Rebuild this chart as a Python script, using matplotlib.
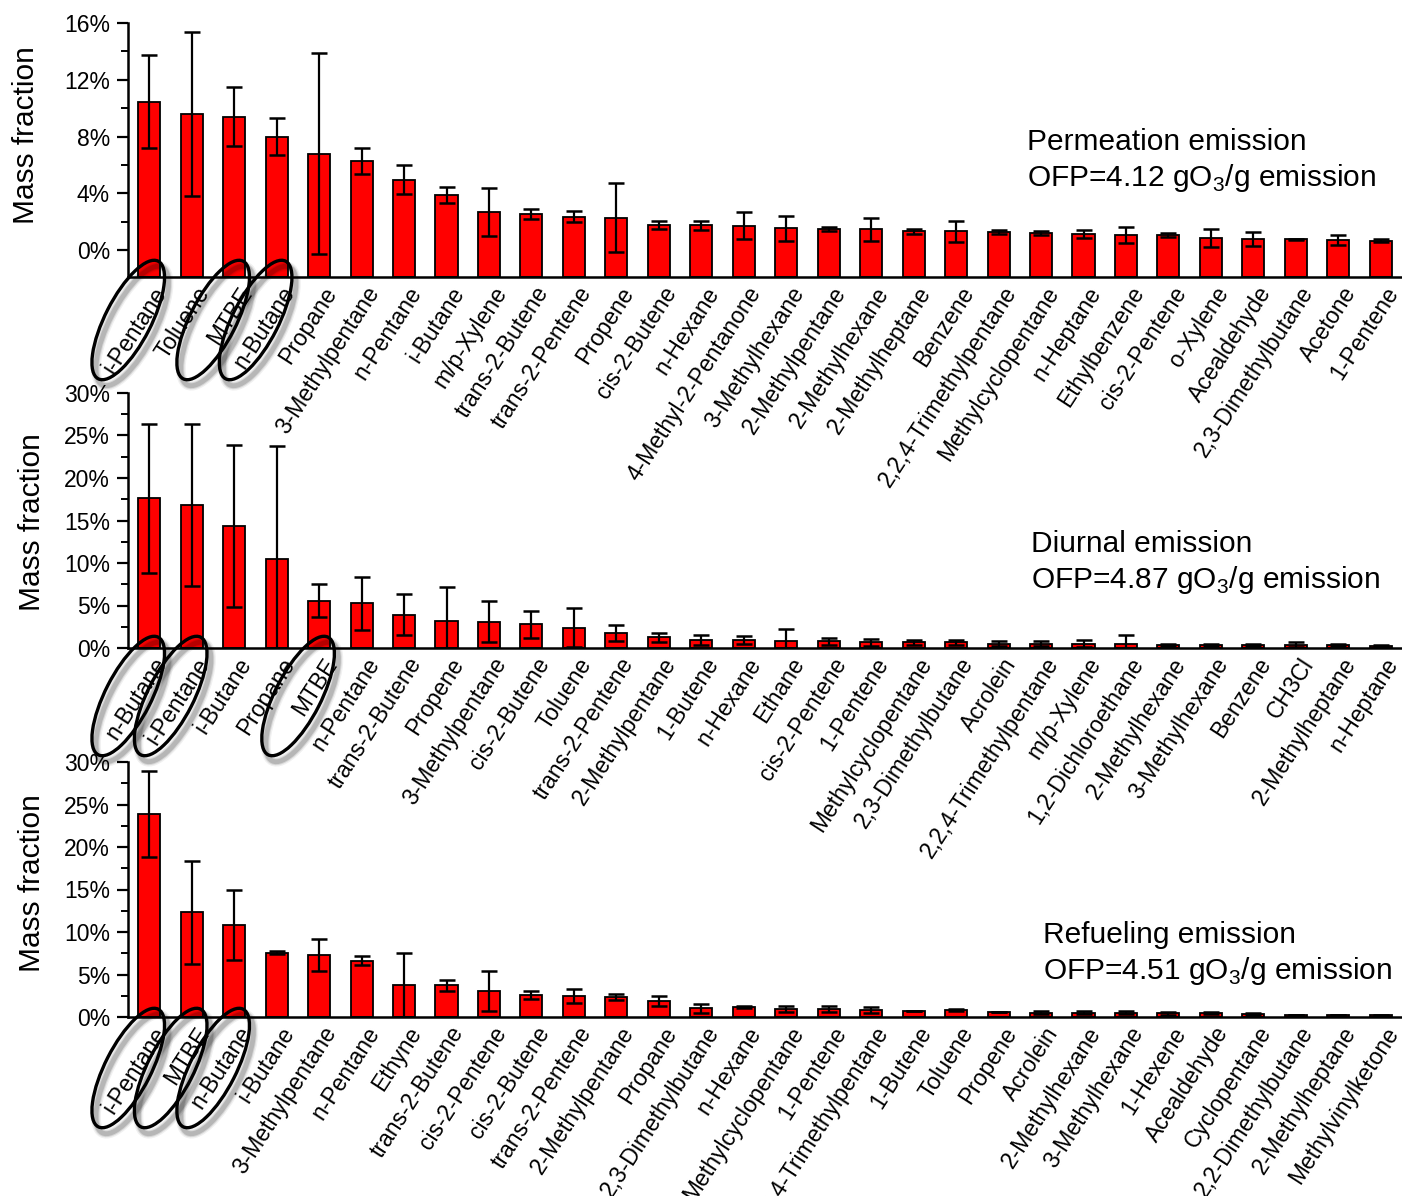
import matplotlib
matplotlib.use("Agg")
import matplotlib.pyplot as plt
from matplotlib.patches import Ellipse
from matplotlib.transforms import IdentityTransform, ScaledTranslation
from matplotlib.ticker import MultipleLocator, FuncFormatter
import numpy as np

plt.rcParams['font.family'] = ['Liberation Sans', 'DejaVu Sans']
plt.rcParams['mathtext.fontset'] = 'custom'
plt.rcParams['mathtext.rm'] = 'Liberation Sans'

# ---------------- data ----------------
perm_labels = ["i-Pentane", "Toluene", "MTBE", "n-Butane", "Propane", "3-Methylpentane",
               "n-Pentane", "i-Butane", "m/p-Xylene", "trans-2-Butene", "trans-2-Pentene",
               "Propene", "cis-2-Butene", "n-Hexane", "4-Methyl-2-Pentanone", "3-Methylhexane",
               "2-Methylpentane", "2-Methylhexane", "2-Methylheptane", "Benzene",
               "2,2,4-Trimethylpentane", "Methylcyclopentane", "n-Heptane", "Ethylbenzene",
               "cis-2-Pentene", "o-Xylene", "Acealdehyde", "2,3-Dimethylbutane", "Acetone",
               "1-Pentene"]
perm_vals = [10.45, 9.58, 9.39, 7.98, 6.80, 6.25, 4.96, 3.89, 2.67, 2.55, 2.36, 2.29, 1.77,
             1.74, 1.71, 1.53, 1.48, 1.46, 1.31, 1.31, 1.29, 1.22, 1.10, 1.06, 1.06, 0.87,
             0.77, 0.75, 0.70, 0.66]
perm_errs = [3.27, 5.8, 2.07, 1.3, 7.1, 0.92, 1.0, 0.55, 1.7, 0.37, 0.4, 2.4, 0.26, 0.3,
             0.94, 0.9, 0.13, 0.8, 0.19, 0.76, 0.15, 0.15, 0.28, 0.54, 0.16, 0.63, 0.5,
             0.03, 0.34, 0.12]

diur_labels = ["n-Butane", "i-Pentane", "i-Butane", "Propane", "MTBE", "n-Pentane",
               "trans-2-Butene", "Propene", "3-Methylpentane", "cis-2-Butene", "Toluene",
               "trans-2-Pentene", "2-Methylpentane", "1-Butene", "n-Hexane", "Ethane",
               "cis-2-Pentene", "1-Pentene", "Methylcyclopentane", "2,3-Dimethylbutane",
               "Acrolein", "2,2,4-Trimethylpentane", "m/p-Xylene", "1,2-Dichloroethane",
               "2-Methylhexane", "3-Methylhexane", "Benzene", "CH3Cl", "2-Methylheptane",
               "n-Heptane"]
diur_vals = [17.6, 16.8, 14.35, 10.42, 5.58, 5.27, 3.93, 3.22, 3.1, 2.79, 2.4, 1.73, 1.26,
             0.9, 0.9, 0.83, 0.79, 0.67, 0.67, 0.67, 0.51, 0.51, 0.51, 0.43, 0.35, 0.35,
             0.35, 0.4, 0.3, 0.22]
diur_errs = [8.8, 9.5, 9.5, 13.3, 1.93, 3.1, 2.4, 4.0, 2.4, 1.6, 2.3, 0.93, 0.5, 0.6, 0.48,
             1.4, 0.4, 0.4, 0.32, 0.32, 0.3, 0.3, 0.4, 1.06, 0.12, 0.12, 0.12, 0.3, 0.12,
             0.08]

refu_labels = ["i-Pentane", "MTBE", "n-Butane", "i-Butane", "3-Methylpentane", "n-Pentane",
               "Ethyne", "trans-2-Butene", "cis-2-Pentene", "cis-2-Butene", "trans-2-Pentene",
               "2-Methylpentane", "Propane", "2,3-Dimethylbutane", "n-Hexane",
               "Methylcyclopentane", "1-Pentene", "2,2,4-Trimethylpentane", "1-Butene",
               "Toluene", "Propene", "Acrolein", "2-Methylhexane", "3-Methylhexane",
               "1-Hexene", "Acealdehyde", "Cyclopentane", "2,2-Dimethylbutane",
               "2-Methylheptane", "Methylvinylketone"]
refu_vals = [23.9, 12.3, 10.86, 7.57, 7.33, 6.63, 3.76, 3.73, 3.02, 2.59, 2.47, 2.31, 1.88,
             1.04, 1.2, 0.94, 0.94, 0.82, 0.7, 0.82, 0.59, 0.5, 0.5, 0.5, 0.43, 0.43, 0.35,
             0.23, 0.23, 0.2]
refu_errs = [5.1, 6.1, 4.1, 0.2, 1.9, 0.55, 3.77, 0.63, 2.37, 0.51, 0.82, 0.35, 0.55, 0.52,
             0.15, 0.4, 0.4, 0.3, 0.05, 0.15, 0.03, 0.15, 0.2, 0.15, 0.15, 0.12, 0.1, 0.05,
             0.05, 0.05]

titles = ["Permeation emission", "Diurnal emission", "Refueling emission"]
ofp = ["4.12", "4.87", "4.51"]
highlight = [["i-Pentane", "MTBE", "n-Butane"],
             ["n-Butane", "i-Pentane", "MTBE"],
             ["i-Pentane", "MTBE", "n-Butane"]]

# ---------------- layout ----------------
W, H = 1402, 1196
fig = plt.figure(figsize=(W / 100, H / 100), dpi=100)

panels = [
    dict(labels=perm_labels, vals=perm_vals, errs=perm_errs, top=23, bot=277,
         ylim=(-1.9, 16), major=4, minor=2, ylab=(-0.069, 0.559),
         txt=(1027, 150, 186), ell_dy=43),
    dict(labels=diur_labels, vals=diur_vals, errs=diur_errs, top=393, bot=648,
         ylim=(0, 30), major=5, minor=2.5, ylab=(-0.064, 0.492),
         txt=(1031, 552, 588), ell_dy=48),
    dict(labels=refu_labels, vals=refu_vals, errs=refu_errs, top=762, bot=1017,
         ylim=(0, 30), major=5, minor=2.5, ylab=(-0.064, 0.527),
         txt=(1043, 943, 979), ell_dy=51),
]

left_px = 128
for k, p in enumerate(panels):
    ax = fig.add_axes([left_px / W, 1 - p['bot'] / H, (W - left_px) / W,
                       (p['bot'] - p['top']) / H])
    n = len(p['labels'])
    x = np.arange(n)
    vals = np.array(p['vals'])
    base = p['ylim'][0]
    ax.bar(x, vals - base, bottom=base, width=0.52, color='#ff0000',
           edgecolor='black', linewidth=1.3, zorder=2)
    ax.errorbar(x, vals, yerr=p['errs'], fmt='none', ecolor='black',
                elinewidth=1.6, capsize=5.5, capthick=1.8, zorder=3)
    ax.set_xlim(-0.5, n - 0.5)
    ax.set_ylim(*p['ylim'])
    ax.yaxis.set_major_locator(MultipleLocator(p['major']))
    ax.yaxis.set_minor_locator(MultipleLocator(p['minor']))
    ax.yaxis.set_major_formatter(FuncFormatter(lambda v, pos: f"{v:.0f}%"))
    ax.tick_params(axis='y', which='major', length=8, width=1.6, labelsize=16.5,
                   direction='out', pad=5)
    ax.tick_params(axis='y', which='minor', length=5, width=1.4, direction='out')
    ax.tick_params(axis='x', length=0, pad=4)
    for s in ['top', 'right']:
        ax.spines[s].set_visible(False)
    for s in ['left', 'bottom']:
        ax.spines[s].set_linewidth(1.8)
    ax.set_xticks(x)
    ax.set_xticklabels(p['labels'], rotation=57, ha='right', va='top',
                       rotation_mode='anchor', fontsize=16.5)
    off = ScaledTranslation(3 / 100, 0, fig.dpi_scale_trans)
    for lab in ax.get_xticklabels():
        lab.set_transform(lab.get_transform() + off)
    ax.set_ylabel("Mass fraction", fontsize=21.5)
    ax.yaxis.set_label_coords(*p['ylab'])
    ax.patch.set_alpha(0)

    tx, ty1, ty2 = p['txt']
    fig.text(tx / W, 1 - ty1 / H, titles[k], fontsize=21.5, va='baseline', ha='left')
    fig.text(tx / W, 1 - ty2 / H, "OFP=" + ofp[k] + r" gO$_\mathregular{3}$/g emission",
             fontsize=21.5, va='baseline', ha='left')

    # ellipses highlighting selected species
    for name in highlight[k]:
        i = p['labels'].index(name)
        cx, cy = ax.transData.transform((i, p['ylim'][0]))
        cx -= 21
        cy -= p['ell_dy']
        for lw, al in [(7, 0.06), (5, 0.1), (3.5, 0.15)]:
            fig.add_artist(Ellipse((cx + 4, cy - 6), 132, 46, angle=63, fill=False,
                                   edgecolor='black', linewidth=lw, alpha=al,
                                   transform=IdentityTransform(), zorder=5))
        fig.add_artist(Ellipse((cx, cy), 132, 46, angle=63, fill=False,
                               edgecolor='black', linewidth=2.4,
                               transform=IdentityTransform(), zorder=6))

fig.savefig("out.png", dpi=100, facecolor='white')
